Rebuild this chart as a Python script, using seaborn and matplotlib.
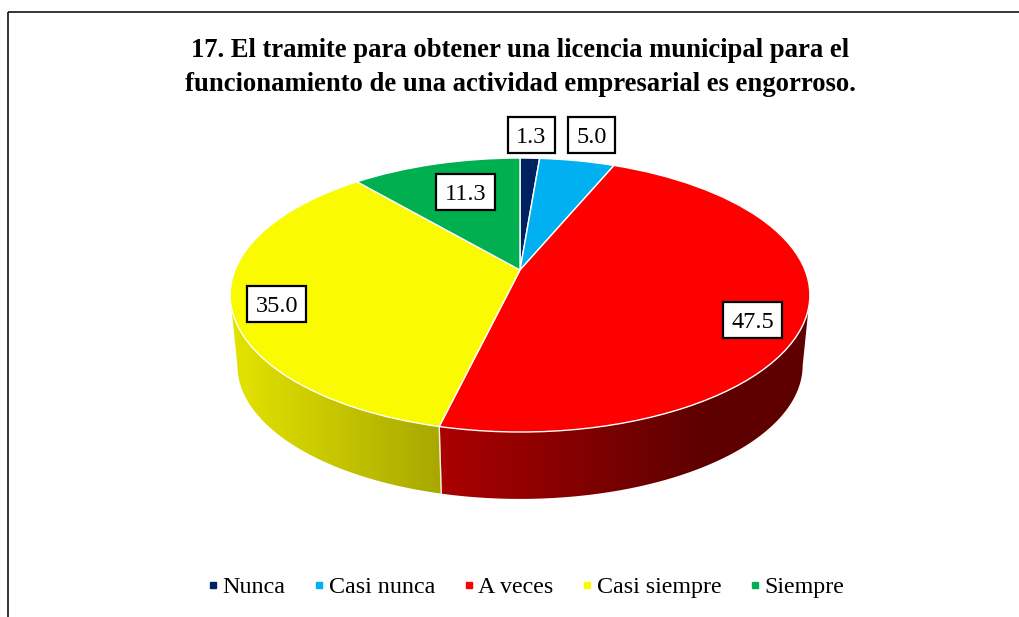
import matplotlib
matplotlib.use('Agg')
import matplotlib.pyplot as plt
import numpy as np
import seaborn as sns
from matplotlib.lines import Line2D
from matplotlib.patches import Polygon, Rectangle
from matplotlib.transforms import Transform

categories = ['Nunca', 'Casi nunca', 'A veces', 'Casi siempre', 'Siempre']
values = [1.3, 5.0, 47.5, 35.0, 11.3]
value_labels = ['1.3', '5.0', '47.5', '35.0', '11.3']
colors = ['#002060', '#00B0F0', '#FF0000', '#FAFA00', '#00B050']
title = ('17. El tramite para obtener una licencia municipal para el\n'
         'funcionamiento de una actividad empresarial es engorroso.')

# where each label box sits, in pixels
label_pos = [(531.5, 135), (591.5, 135), (753, 320), (277, 304), (465.5, 191.5)]

# perspective of the pie, in pixels
CX, CY = 520, 270
A, B, K = 285, 132.4, 0.1825
WALL_SCALE, WALL_DROP = 0.975, 71


def project(u, v, wall=False):
    w = 1 + K * v
    x = A * u / w
    y = B * v / w
    if wall:
        x = x * WALL_SCALE
        y = y * WALL_SCALE - WALL_DROP
    return CX + x, CY - y


class Perspective(Transform):
    input_dims = 2
    output_dims = 2

    def transform_non_affine(self, values):
        values = np.asarray(values)
        x, y = project(values[:, 0], values[:, 1])
        return np.column_stack([x, y])


def shade(x):
    return np.clip(0.91 - 0.24 * (x - 232) / 208, 0.37, 1)


def draw_wall(ax, wedges, palette):
    xs = np.arange(225, 816)
    for wedge, color in zip(wedges, palette):
        t = np.radians(np.arange(wedge.theta1, wedge.theta2 + 0.25, 0.25))
        # only the front of the rim can be seen
        t = t[np.sin(t) <= -K]
        if len(t) == 0:
            continue
        xt, yt = project(np.cos(t), np.sin(t))
        xb, yb = project(np.cos(t), np.sin(t), wall=True)
        outline = np.column_stack([np.r_[xt, xb[::-1]], np.r_[yt, yb[::-1]]])
        clip = Polygon(outline, closed=True, transform=ax.transData, fill=False, edgecolor='none')
        ax.add_patch(clip)
        gradient = np.array(color)[None, None, :] * shade(xs)[None, :, None]
        img = ax.imshow(gradient, extent=(225, 816, 520, 250), aspect='auto',
                        interpolation='bilinear', zorder=1)
        img.set_clip_path(clip)
        # white seam where slices meet on the side
        if np.isclose(t[0], np.radians(wedge.theta1)):
            ax.plot([xt[0], xb[0]], [yt[0], yb[0]], color='#f2f2f2', lw=1, zorder=1.5)


sns.set_theme(style='white')
plt.rcParams['font.family'] = ['Liberation Serif', 'DejaVu Serif']
palette = sns.color_palette(colors)

fig, ax = plt.subplots(figsize=(10.19, 6.17), dpi=100)
fig.subplots_adjust(left=0, right=1, top=1, bottom=0)

wedges, _ = ax.pie(values, colors=palette, startangle=90, counterclock=False,
                   wedgeprops={'edgecolor': 'white', 'linewidth': 1})
draw_wall(ax, wedges, palette)
for wedge in wedges:
    wedge.set_transform(Perspective() + ax.transData)
    wedge.set_zorder(2)

ax.set_aspect('auto')
ax.set_xlim(0, 1019)
ax.set_ylim(617, 0)
ax.set_axis_on()
ax.set_frame_on(False)
ax.set_xticks([])
ax.set_yticks([])

# chart border only shows on top and left
ax.plot([8, 8], [617, 12], color='black', lw=1.1, zorder=5, solid_capstyle='butt')
ax.plot([8, 1019], [12, 12], color='black', lw=1.1, zorder=5, solid_capstyle='butt')

ax.text(520, 67.5, title, ha='center', va='center', fontsize=19.2, fontweight='bold',
        color='black', linespacing=1.47)

for text, (x, y) in zip(value_labels, label_pos):
    w = 11 + 12 * len(text)
    ax.add_patch(Rectangle((x - w / 2, y - 18), w, 36, facecolor='white', edgecolor='black',
                           linewidth=1.6, zorder=5.5))
    ax.text(x, y, text, ha='center', va='center_baseline', fontsize=17.5, color='black', zorder=6)

handles = [Line2D([], [], linestyle='none', marker='s', markersize=4.6, color=c) for c in palette]
ax.legend(handles, categories, ncol=5, loc='center', bbox_to_anchor=(525, 587),
          bbox_transform=ax.transData, frameon=False, fontsize=17.3, labelcolor='black',
          handlelength=0.6, handletextpad=0.1, columnspacing=1.1)

fig.savefig('out.png', dpi=100)
